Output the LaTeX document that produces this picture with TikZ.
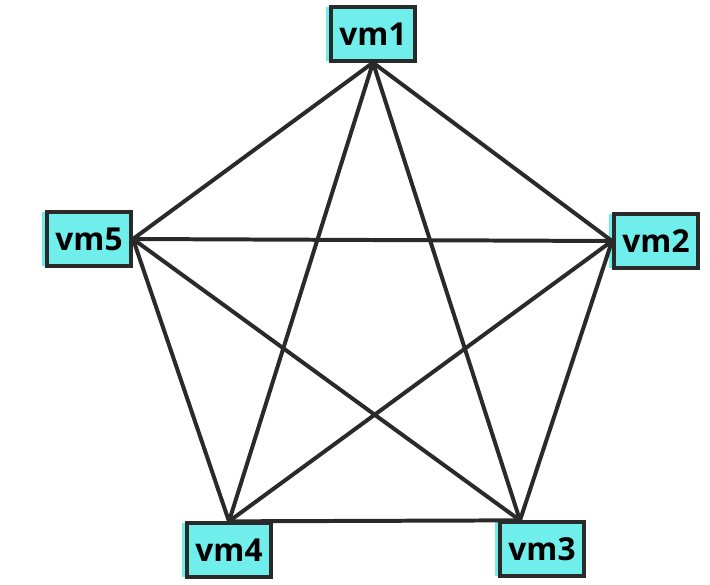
\documentclass[tikz,border=0pt]{standalone}
\usepackage{fontspec}
\setmainfont{Open Sans}
\usepackage{tikz}
\usetikzlibrary{calc,positioning}
\definecolor{vmcyan}{RGB}{112,238,236}
\definecolor{linkgray}{RGB}{42,42,42}
\tikzset{
  vmbox/.style={draw=linkgray, line width=3.4pt, fill=vmcyan,
    preaction={fill=vmcyan, transform canvas={xshift=-4pt}},
    minimum width=2.52cm, minimum height=1.6cm, inner sep=0pt,
    font=\fontsize{27}{30}\selectfont\bfseries},
  link/.style={linkgray, line width=3.4pt, line cap=round}
}
\begin{document}
\begin{tikzpicture}[x=0.03cm, y=-0.03cm]
			\useasboundingbox (0,0) rectangle (710,584);
			% the five machines
			\node[vmbox] (vm1) at (373,34) {vm1};
			\node[vmbox] (vm2) at (656,241) {vm2};
			\node[vmbox] (vm3) at (542,549) {vm3};
			\node[vmbox] (vm4) at (229,550) {vm4};
			\node[vmbox] (vm5) at (89,239) {vm5};
			% where the links meet each box
			\coordinate (p1) at (vm1.south);
			\coordinate (p2) at (vm2.west);
			\coordinate (p3) at ([xshift=-0.66cm]vm3.north);
			\coordinate (p4) at (vm4.north);
			\coordinate (p5) at (vm5.east);
			% every machine linked to every other
			\foreach \a/\b in {1/2,1/3,1/4,1/5,2/3,2/4,2/5,3/4,3/5,4/5}
			  \draw[link] (p\a) -- (p\b);
			\end{tikzpicture}
\end{document}
